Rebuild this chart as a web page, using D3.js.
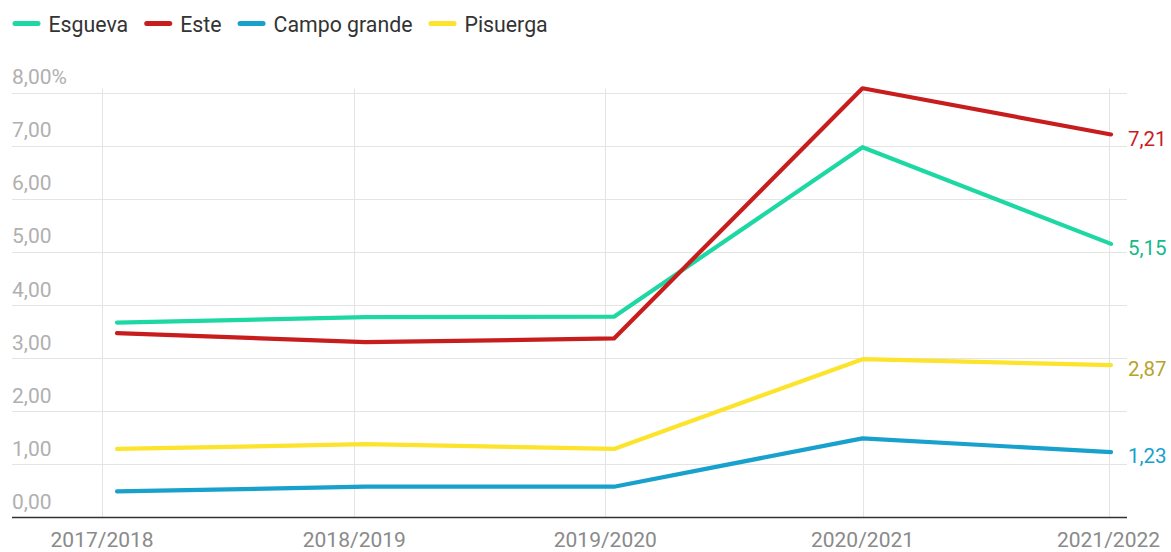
<!DOCTYPE html>
<html>
<head>
<meta charset="utf-8">
<script src="https://cdn.jsdelivr.net/npm/d3@7"></script>
<style>
  html, body { margin: 0; padding: 0; background: #fff; }
  svg { display: block; font-family: Roboto, "Noto Sans", sans-serif; }
</style>
</head>
<body>
<svg id="chart" width="1171" height="552"></svg>
<script>
// ---- data ----
const categories = ["2017/2018", "2018/2019", "2019/2020", "2020/2021", "2021/2022"];
const esgueva     = [3.67, 3.77, 3.78, 6.97, 5.15];
const este        = [3.47, 3.30, 3.37, 8.08, 7.21];
const campoGrande = [0.49, 0.58, 0.58, 1.49, 1.23];
const pisuerga    = [1.29, 1.38, 1.29, 2.98, 2.87];
const seriesNames = ["Esgueva", "Este", "Campo grande", "Pisuerga"];
const yTicks = [0, 1, 2, 3, 4, 5, 6, 7, 8];
// tick positions along the category index (axis ticks sit slightly off the data points)
const xTickPos = [-0.06, 0.955, 1.965, 3.0, 3.99];

const seriesData = [esgueva, este, campoGrande, pisuerga];
const colors = ["#1ed8a4", "#c71e1d", "#18a1cd", "#fde42c"];
const labelColors = ["#15b98a", "#c71e1d", "#18a1cd", "#b8a32a"];

const svg = d3.select("#chart");
const x = d3.scaleLinear().domain([0, 4]).range([117, 1111]);
const y = d3.scaleLinear().domain([0, 8]).range([517.5, 92.5]);
const gridLeft = 12, gridRight = 1127;

// horizontal gridlines
svg.append("g").selectAll("line").data(yTicks.filter(d => d > 0)).join("line")
  .attr("x1", gridLeft).attr("x2", gridRight)
  .attr("y1", d => Math.round(y(d)) + 0.5).attr("y2", d => Math.round(y(d)) + 0.5)
  .attr("stroke", "#e4e4e4").attr("stroke-width", 1);

// vertical gridlines
svg.append("g").selectAll("line").data(xTickPos).join("line")
  .attr("x1", d => Math.round(x(d)) + 0.5).attr("x2", d => Math.round(x(d)) + 0.5)
  .attr("y1", y(8) - 4).attr("y2", y(0))
  .attr("stroke", "#e4e4e4").attr("stroke-width", 1);

// y labels
svg.append("g").selectAll("text").data(yTicks).join("text")
  .attr("x", gridLeft).attr("y", d => y(d) - 8.5)
  .attr("fill", "#b0b0b0").attr("font-size", 21)
  .text(d => d3.format(".2f")(d).replace(".", ",") + (d === 8 ? "%" : ""));

// x labels
svg.append("g").selectAll("text").data(categories).join("text")
  .attr("x", (d, i) => x(xTickPos[i])).attr("y", 546.5)
  .attr("text-anchor", "middle")
  .attr("fill", "#8a8a8a").attr("font-size", 21)
  .text(d => d);

// baseline
svg.append("line")
  .attr("x1", gridLeft).attr("x2", gridRight)
  .attr("y1", y(0)).attr("y2", y(0))
  .attr("stroke", "#333").attr("stroke-width", 1.5);

// lines
const line = d3.line().x((d, i) => x(i)).y(d => y(d));
const order = [2, 3, 0, 1];
svg.append("g").selectAll("path").data(order).join("path")
  .attr("d", k => line(seriesData[k]))
  .attr("fill", "none")
  .attr("stroke", k => colors[k])
  .attr("stroke-width", 4.2)
  .attr("stroke-linejoin", "round")
  .attr("stroke-linecap", "round");

// end labels
svg.append("g").selectAll("text").data(seriesData).join("text")
  .attr("x", 1128)
  .attr("y", d => y(d[d.length - 1]) + 4)
  .attr("dy", "0.35em")
  .attr("fill", (d, k) => labelColors[k])
  .attr("font-size", 20.5)
  .text(d => d3.format(".2f")(d[d.length - 1]).replace(".", ","));

// legend
const legend = svg.append("g");
let lx = 12.5;
seriesNames.forEach((name, k) => {
  legend.append("line")
    .attr("x1", lx + 2.5).attr("x2", lx + 25.5)
    .attr("y1", 23.5).attr("y2", 23.5)
    .attr("stroke", colors[k]).attr("stroke-width", 5)
    .attr("stroke-linecap", "round");
  const t = legend.append("text")
    .attr("x", lx + 36).attr("y", 32)
    .attr("fill", "#333").attr("font-size", 21.3)
    .text(name);
  const w = t.node().getComputedTextLength();
  lx = lx + 36 + w + 16;
});
</script>
</body>
</html>
